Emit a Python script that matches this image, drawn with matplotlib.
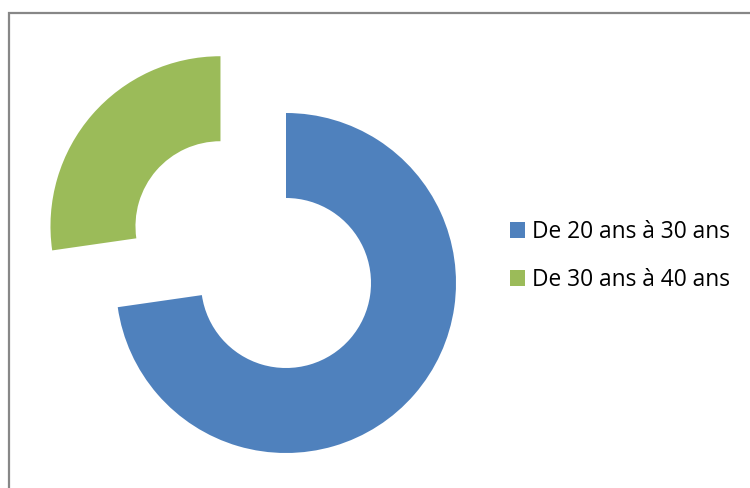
import matplotlib
matplotlib.use("Agg")
import matplotlib.pyplot as plt
from matplotlib.patches import Rectangle, Patch

categories = ["De 20 ans à 30 ans", "De 30 ans à 40 ans"]
values = [8, 3]
colors = ["#4F81BD", "#9BBB59"]
explode = [0, 0.51]

W, H = 750, 488
cx, cy, R = 286, 283, 170

fig = plt.figure(figsize=(7.5, 4.88), dpi=100)
ax = fig.add_axes([0, 0, 1, 1])
ax.set_aspect("equal")
ax.axis("off")

wedges, _ = ax.pie(values, colors=colors, explode=explode, startangle=90,
                   counterclock=False, radius=1, center=(0, 0),
                   wedgeprops=dict(width=0.5, linewidth=0))
ax.set_xlim((0 - cx) / R, (W - cx) / R)
ax.set_ylim((cy - H) / R, cy / R)

# chart border
fig.patches.append(Rectangle((9 / W, -0.1), 1.2, (H - 13) / H + 0.1,
                             transform=fig.transFigure, fill=False,
                             edgecolor="#878787", linewidth=1.6))

handles = [Patch(facecolor=c, edgecolor="none") for c in colors]
leg = fig.legend(handles, categories, loc="center left",
                 bbox_to_anchor=(494 / W, 1 - 256 / H),
                 frameon=False, handlelength=0.67, handleheight=0.67,
                 handletextpad=0.3, labelspacing=1.05, borderpad=0.2,
                 prop=dict(family="Open Sans", size=16.4))

fig.savefig("out.png", dpi=100)
